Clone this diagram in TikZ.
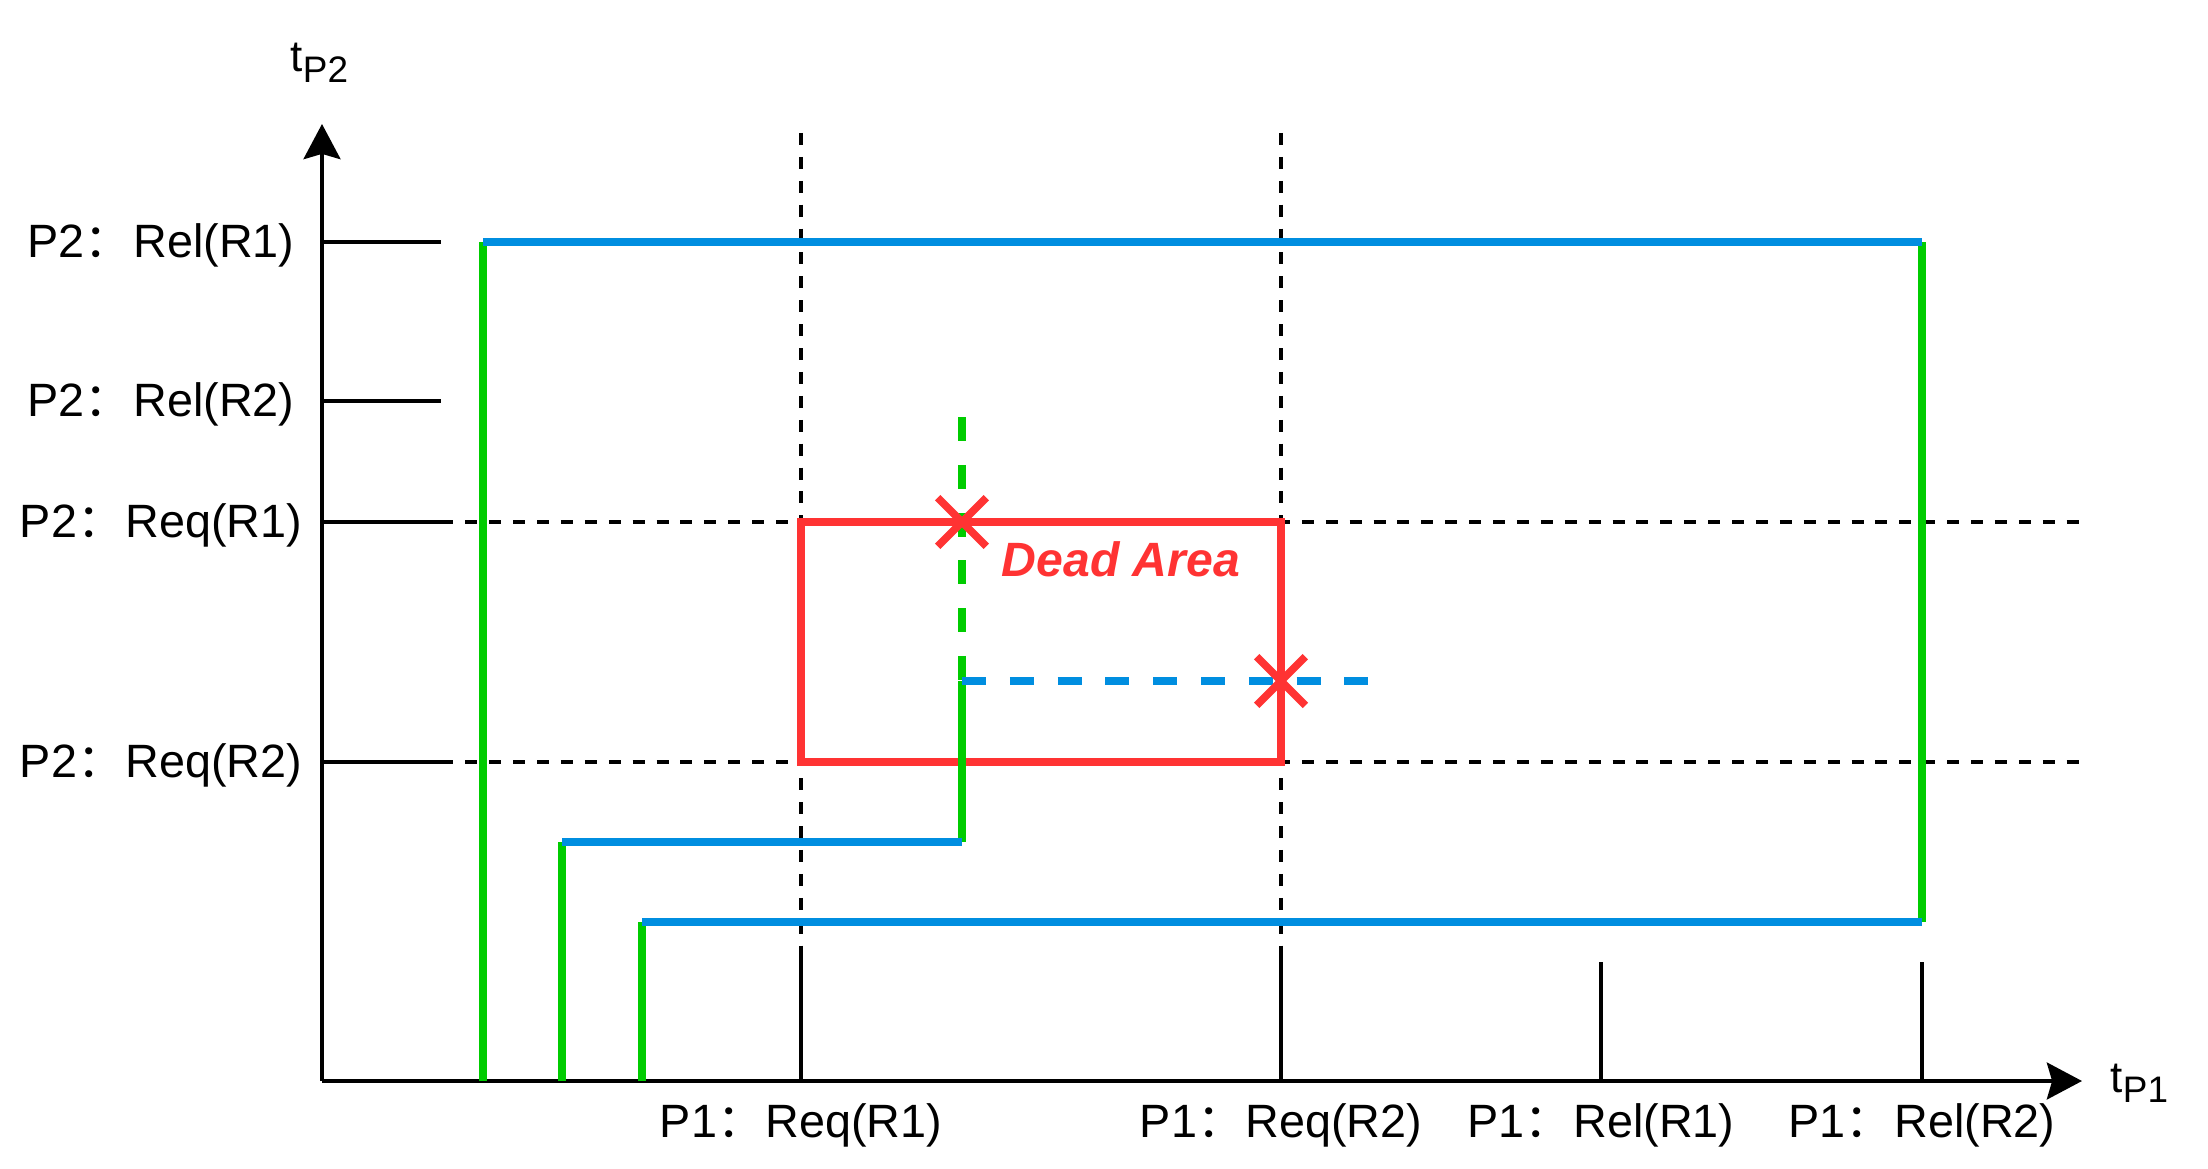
\documentclass[tikz,border=0pt]{standalone}
\usepackage{fontspec}
\setmainfont{Liberation Sans}
\newfontfamily\cjk{Noto Sans CJK SC}
\usepackage{xcolor}
\definecolor{azul}{RGB}{0,142,224}
\definecolor{verde}{RGB}{0,204,0}
\definecolor{rojo}{RGB}{255,51,51}
\usepackage{tikz}
\usetikzlibrary{arrows.meta,shapes.misc}
\tikzstyle{eje}   =[line width=1.1pt,
                    -{Stealth[length=10pt,width=10.5pt,inset=1.5pt]}]
\tikzstyle{marca} =[line width=1.1pt]
\tikzstyle{guia}  =[line width=1.1pt, dash pattern=on 3.4pt off 3.4pt]
\tikzstyle{traza} =[line width=2.3pt]
\tikzstyle{trazap}=[line width=2.3pt, dash pattern=on 6.8pt off 6.8pt]
\tikzstyle{cruz}  =[cross out, draw=rojo, line width=2.2pt,
                    minimum size=0.41cm, inner sep=0pt]
\tikzstyle{etiq}  =[inner sep=0pt, anchor=base,
                    font=\fontsize{13.3}{15}\selectfont]
\newcommand{\dpuntos}{{\cjk ：}\hspace{0.5pt}}
\newcommand{\tsub}[1]{t\raisebox{-3.1pt}{\fontsize{10.5}{12}\selectfont #1}}

\begin{document}
\begin{tikzpicture}
    \useasboundingbox (0,0) rectangle (22.08,11.68);

    % guias
    \foreach \y in {6.46,4.06}
        \draw [guia] (3.22,\y) -- (20.82,\y);
    \foreach \x in {8.01,12.81}
        \draw [guia] (\x,10.35) -- (\x,2.18);

    % ejes
    \draw [eje] (3.22,0.87) -- (20.82,0.87);
    \draw [eje] (3.22,0.87) -- (3.22,10.44);
    \foreach \y/\l in {9.26/4.41,7.67/4.41,6.46/4.53,4.06/4.53}
        \draw [marca] (3.22,\y) -- (\l,\y);
    \foreach \x/\h in {8.01/2.18,12.81/2.18,16.01/2.06,19.22/2.06}
        \draw [marca] (\x,0.87) -- (\x,\h);

    \node (ty) [anchor=base west, inner sep=0pt,
        font=\fontsize{12.5}{15}\selectfont] at (2.90,10.96) {\tsub{P2}};
    \node (tx) [anchor=base west, inner sep=0pt,
        font=\fontsize{12.5}{15}\selectfont] at (21.10,0.76) {\tsub{P1}};

    \node (rel1) [etiq] at (1.61,9.11) {P2\dpuntos Rel(R1)};
    \node (rel2) [etiq] at (1.61,7.52) {P2\dpuntos Rel(R2)};
    \node (req1) [etiq] at (1.61,6.31) {P2\dpuntos Req(R1)};
    \node (req2) [etiq] at (1.61,3.91) {P2\dpuntos Req(R2)};
    \node (p1a) [etiq] at (8.01,0.31) {P1\dpuntos Req(R1)};
    \node (p1b) [etiq] at (12.81,0.31) {P1\dpuntos Req(R2)};
    \node (p1c) [etiq] at (16.01,0.31) {P1\dpuntos Rel(R1)};
    \node (p1d) [etiq] at (19.22,0.31) {P1\dpuntos Rel(R2)};

    % zona muerta
    \draw [traza,rojo] (8.01,4.06) rectangle (12.81,6.46);
    \node (dead) [text=rojo,
        font=\fontsize{13.7}{16}\selectfont\bfseries\itshape]
        at (11.21,6.09) {Dead Area};

    % trayectorias
    \foreach \x/\a/\b in {4.83/0.87/9.26,5.62/0.87/3.26,6.42/0.87/2.46,
        19.22/2.46/9.26,9.62/3.26/4.87}
        \draw [traza,verde] (\x,\a) -- (\x,\b);
    \foreach \y/\a/\b in {9.26/4.83/19.22,3.26/5.62/9.62,2.46/6.42/19.22}
        \draw [traza,azul] (\a,\y) -- (\b,\y);
    \draw [trazap,verde] (9.62,7.51) -- (9.62,4.87);
    \draw [trazap,azul] (9.62,4.87) -- (13.70,4.87);

    \node (x1) [cruz] at (9.62,6.46) {};
    \node (x2) [cruz] at (12.81,4.87) {};

\end{tikzpicture}
\end{document}
